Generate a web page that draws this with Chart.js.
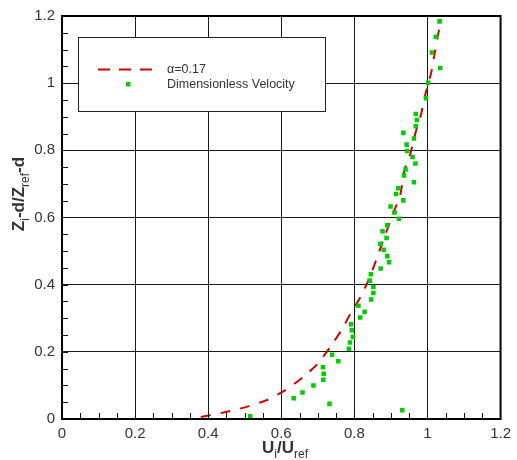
<!DOCTYPE html>
<html>
<head>
<meta charset="utf-8">
<script src="https://cdn.jsdelivr.net/npm/chart.js@4/dist/chart.umd.min.js"></script>
<style>
  html, body { margin: 0; padding: 0; background: #fff; }
  #wrap { width: 517px; height: 460px; position: relative; }
</style>
</head>
<body>
<div id="wrap"><canvas id="c" width="517" height="460"></canvas></div>
<script>
// ---- Data ----
const xTicks = [0, 0.2, 0.4, 0.6, 0.8, 1, 1.2];
const yTicks = [0, 0.2, 0.4, 0.6, 0.8, 1, 1.2];

const curveLabel = "\u03b1=0.17";
const curveX = [0.38, 0.445, 0.505, 0.56, 0.61, 0.66, 0.70, 0.733, 0.765, 0.79, 0.82, 0.845, 0.865, 0.885, 0.905, 0.925, 0.937, 0.953, 0.968, 0.983, 0.995, 1.01, 1.02, 1.03, 1.038];
const curveY = [0.006, 0.02, 0.036, 0.056, 0.085, 0.125, 0.165, 0.213, 0.265, 0.315, 0.37, 0.43, 0.49, 0.55, 0.61, 0.665, 0.74, 0.79, 0.855, 0.91, 0.97, 1.03, 1.09, 1.15, 1.19];

const velLabel = "Dimensionless Velocity";
const velX = [0.515, 0.931, 0.732, 0.634, 0.658, 0.688, 0.715, 0.716, 0.714, 0.756, 0.739, 0.785, 0.788, 0.796, 0.793, 0.791, 0.816, 0.828, 0.811, 0.846, 0.852, 0.852, 0.842, 0.845, 0.872, 0.895, 0.890, 0.880, 0.871, 0.888, 0.877, 0.890, 0.922, 0.910, 0.899, 0.934, 0.914, 0.920, 0.963, 0.936, 0.940, 0.967, 0.959, 0.944, 0.943, 0.963, 0.934, 0.968, 0.971, 0.968, 0.996, 1.002, 1.035, 1.012, 1.023, 1.033];
const velY = [0.008, 0.026, 0.045, 0.062, 0.079, 0.100, 0.117, 0.135, 0.154, 0.172, 0.191, 0.209, 0.228, 0.245, 0.264, 0.282, 0.302, 0.319, 0.337, 0.356, 0.375, 0.393, 0.412, 0.431, 0.448, 0.467, 0.485, 0.504, 0.522, 0.539, 0.559, 0.577, 0.596, 0.615, 0.633, 0.651, 0.670, 0.687, 0.705, 0.725, 0.743, 0.761, 0.780, 0.798, 0.817, 0.835, 0.852, 0.872, 0.890, 0.908, 0.955, 1.001, 1.045, 1.091, 1.138, 1.184];

// ---- Styles ----
const RED = '#d40000';
const GREEN = '#00cc00';
const FONT = "'Liberation Sans', Arial, sans-serif";
const TXT = '#333333';
const DASH = [10, 10];

const curveData = curveX.map((x, i) => ({ x: x, y: curveY[i] }));
const velData = velX.map((x, i) => ({ x: x, y: velY[i] }));

function drawRich(ctx, parts, cx, baseY) {
  let total = 0;
  parts.forEach(p => { ctx.font = p.font; p.w = ctx.measureText(p.t).width; total += p.w; });
  let x = cx - total / 2;
  ctx.textAlign = 'left';
  ctx.textBaseline = 'alphabetic';
  parts.forEach(p => {
    ctx.font = p.font;
    ctx.fillText(p.t, x, baseY + (p.sub ? 5 : 0));
    x += p.w;
  });
}

const decor = {
  id: 'decor',
  afterDatasetsDraw(chart) {
    const ctx = chart.ctx;
    const a = chart.chartArea;
    const xs = chart.scales.x, ys = chart.scales.y;
    ctx.save();
    // minor ticks (inside, bottom and left)
    ctx.strokeStyle = '#111';
    ctx.lineWidth = 1;
    for (let k = 1; k < 24; k++) {
      const v = k * 0.05;
      const px = Math.round(xs.getPixelForValue(v)) + 0.5;
      ctx.beginPath(); ctx.moveTo(px, a.bottom); ctx.lineTo(px, a.bottom - 6); ctx.stroke();
      const py = Math.round(ys.getPixelForValue(v)) + 0.5;
      ctx.beginPath(); ctx.moveTo(a.left, py); ctx.lineTo(a.left + 6, py); ctx.stroke();
    }
    // frame
    ctx.strokeStyle = '#000';
    ctx.lineWidth = 2;
    ctx.strokeRect(a.left, a.top, a.right - a.left, a.bottom - a.top);

    // legend box
    const lx = 78, ly = 37, lw = 247, lh = 74;
    ctx.fillStyle = '#fff';
    ctx.fillRect(lx, ly, lw, lh);
    ctx.strokeStyle = '#222';
    ctx.lineWidth = 1;
    ctx.strokeRect(lx + 0.5, ly + 0.5, lw, lh);

    // legend entry 1: dashed line
    ctx.strokeStyle = RED;
    ctx.lineWidth = 2;
    ctx.setLineDash([12, 9]);
    ctx.beginPath(); ctx.moveTo(98, 69.5); ctx.lineTo(152, 69.5); ctx.stroke();
    ctx.setLineDash([]);
    // legend entry 2: square
    ctx.fillStyle = GREEN;
    ctx.fillRect(126, 82, 4.5, 4.5);

    ctx.fillStyle = TXT;
    ctx.font = '12.5px ' + FONT;
    ctx.textAlign = 'left';
    ctx.textBaseline = 'middle';
    ctx.fillText(chart.data.datasets[0].label, 167, 70);
    ctx.fillText(chart.data.datasets[1].label, 167, 85);
    ctx.restore();
  },
  afterDraw(chart) {
    const ctx = chart.ctx;
    ctx.save();
    ctx.fillStyle = TXT;
    const B = 'bold 17px ' + FONT, S = '12px ' + FONT;
    // x title: U_i/U_ref
    drawRich(ctx, [
      { t: 'U', font: B }, { t: 'i', font: S, sub: true },
      { t: '/U', font: B }, { t: 'ref', font: S, sub: true }
    ], 285, 453);
    // y title: Z_i-d/Z_ref-d (rotated)
    ctx.translate(24, 194);
    ctx.rotate(-Math.PI / 2);
    drawRich(ctx, [
      { t: 'Z', font: B }, { t: 'i', font: S, sub: true },
      { t: '-d/Z', font: B }, { t: 'ref', font: S, sub: true },
      { t: '-d', font: B }
    ], 0, 0);
    ctx.restore();
  }
};

new Chart(document.getElementById('c'), {
  type: 'scatter',
  data: {
    datasets: [
      {
        label: curveLabel,
        data: curveData,
        showLine: true,
        borderColor: RED,
        borderWidth: 2,
        borderDash: DASH,
        pointRadius: 0,
        fill: false,
        tension: 0.2,
        order: 2
      },
      {
        label: velLabel,
        data: velData,
        showLine: false,
        pointStyle: 'rect',
        pointRadius: 3.2,
        pointBorderWidth: 0,
        backgroundColor: GREEN,
        borderColor: GREEN,
        order: 1
      }
    ]
  },
  plugins: [decor],
  options: {
    responsive: false,
    animation: false,
    devicePixelRatio: 1,
    layout: { padding: { left: 0, right: 11, top: 15, bottom: 0 } },
    plugins: { legend: { display: false }, tooltip: { enabled: false } },
    scales: {
      x: {
        type: 'linear', min: 0, max: 1.2,
        afterBuildTicks: s => { s.ticks = xTicks.map(v => ({ value: v })); },
        afterFit: s => { s.height = 41; },
        grid: { color: '#1a1a1a', lineWidth: 1, drawTicks: false },
        border: { display: false },
        ticks: { padding: 6, color: TXT, font: { family: FONT, size: 15 }, callback: v => String(v) }
      },
      y: {
        type: 'linear', min: 0, max: 1.2,
        afterBuildTicks: s => { s.ticks = yTicks.map(v => ({ value: v })); },
        afterFit: s => { s.width = 62; },
        grid: { color: '#1a1a1a', lineWidth: 1, drawTicks: false },
        border: { display: false },
        ticks: { padding: 7, color: TXT, font: { family: FONT, size: 15 }, callback: v => String(v) }
      }
    }
  }
});
</script>
</body>
</html>
